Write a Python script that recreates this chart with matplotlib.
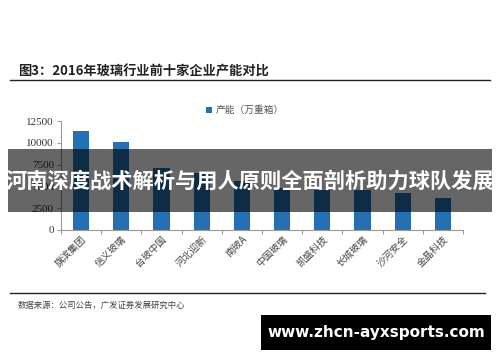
import matplotlib
matplotlib.use("Agg")
import matplotlib.pyplot as plt
from matplotlib.patches import Rectangle

plt.rcParams['font.family'] = ['Noto Sans CJK SC', 'DejaVu Sans']

# data (万重箱)
companies = ['旗滨集团', '信义玻璃', '台玻中国', '河北迎新', '南玻A',
             '中国玻璃', '凯盛科技', '长城玻璃', '沙河安全', '金晶科技']
capacity = [11400, 10100, 7100, 6600, 5650, 4850, 4600, 4600, 4250, 3700]
yticks = [0, 2500, 5000, 7500, 10000, 12500]

bar_color = '#2570b0'
axis_color = '#9a9a9a'

fig = plt.figure(figsize=(5, 3.62), dpi=100)

ax = fig.add_axes([0.122, 0.365, 0.804, 0.300])
x = list(range(len(companies)))
ax.bar(x, capacity, width=0.4, color=bar_color, label='产能（万重箱）')
ax.set_xlim(-0.5, len(companies) - 0.5)
ax.set_ylim(0, 12500)
ax.set_yticks(yticks)
ax.set_yticklabels([str(v) for v in yticks], family='Liberation Serif', fontsize=8, color='#333333')
for s in ['top', 'right']:
    ax.spines[s].set_visible(False)
for s in ['left', 'bottom']:
    ax.spines[s].set_color(axis_color)
    ax.spines[s].set_linewidth(0.8)
ax.tick_params(axis='y', length=3, color=axis_color, pad=2)
# ticks between categories, labels centred under the bars
ax.set_xticks([i - 0.5 for i in range(len(companies) + 1)])
ax.set_xticklabels([])
ax.tick_params(axis='x', length=3, color=axis_color)
ax.set_xticks(x, minor=True)
ax.set_xticklabels(companies, minor=True, rotation=45, ha='right', va='top',
                   rotation_mode='anchor', fontsize=7, color='#444444')
ax.tick_params(axis='x', which='minor', length=0, pad=3)

leg = ax.legend(loc='upper left', bbox_to_anchor=(0.34, 1.23), frameon=False,
                fontsize=7, handlelength=0.6, handleheight=0.6, handletextpad=0.3)
for t in leg.get_texts():
    t.set_color('#555555')

# title and rules
fig.text(0.036, 0.802, '图3：2016年玻璃行业前十家企业产能对比', fontsize=9.5,
         fontweight='bold', color='#222222', va='center')
fig.add_artist(plt.Line2D([0.02, 0.98], [0.778, 0.778], color='#222222', lw=1.0))
fig.add_artist(plt.Line2D([0.02, 0.97], [0.191, 0.191], color='#222222', lw=1.0))
fig.text(0.036, 0.157, '数据来源：公司公告，广发证券发展研究中心', fontsize=6,
         color='#444444', va='center')

# overlay banner
fig.add_artist(Rectangle((0.016, 0.414), 0.968, 0.174, transform=fig.transFigure,
                         facecolor='black', alpha=0.6, edgecolor='none'))
fig.text(0.5, 0.501, '河南深度战术解析与用人原则全面剖析助力球队发展', fontsize=15.3,
         fontweight='bold', color='white', ha='center', va='center')

# watermark box
fig.add_artist(Rectangle((0.522, 0.033), 0.46, 0.096, transform=fig.transFigure,
                         facecolor='black', edgecolor='none'))
fig.text(0.752, 0.081, 'www.zhcn-ayxsports.com', fontsize=11, fontweight='bold',
         color='white', ha='center', va='center', family='DejaVu Sans')

fig.savefig('out.png', dpi=100)
